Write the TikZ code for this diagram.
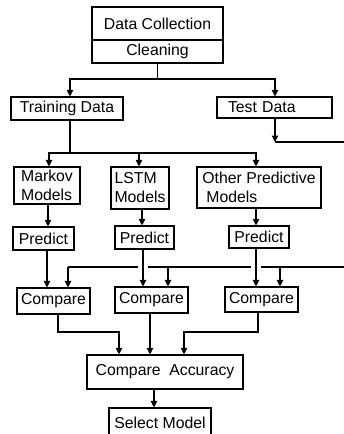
\documentclass[tikz,border=0pt]{standalone}
\usepackage{fontspec}
\setmainfont{Liberation Sans}
\usetikzlibrary{arrows.meta}
\begin{document}
\begin{tikzpicture}[x=1pt,y=-1pt,
  box/.style={draw, line width=1.1pt, inner sep=0pt, align=center,
    font=\fontsize{15.8}{19}\selectfont},
  conn/.style={line width=1.1pt},
  arr/.style={conn, -{Triangle[width=6.5pt,length=6.5pt]}}]
\clip (0,0) rectangle (344,434);
\fill[white] (0,0) rectangle (344,434);

% data preparation
\node[box, minimum width=131, minimum height=33] (dc) at (157.5,23.5) {Data Collection};
\node[box, minimum width=131, minimum height=23] (cl) at (157.5,51.5) {Cleaning};

% data split
\node[box, minimum width=112, minimum height=23] (train) at (67,108.5) {Training Data};
\node[box, text width=93, inner xsep=11pt, minimum height=21, align=left] (test) at (274.5,107.5) {Test Data};

% models
\node[box, minimum width=66, minimum height=37, align=left] (markov) at (47,185.5) {Markov\\Models};
\node[box, minimum width=58, minimum height=42, align=left] (lstm) at (140,188) {LSTM\\Models};
\node[box, minimum width=124, minimum height=41, align=left] (other) at (259,187.5) {Other Predictive\\\hspace*{4pt}Models};

% predictions
\node[box, minimum width=61, minimum height=23] (p1) at (43.5,238.5) {Predict};
\node[box, minimum width=59, minimum height=23] (p2) at (144.5,237.5) {Predict};
\node[box, minimum width=60, minimum height=22] (p3) at (259,237) {Predict};

% comparisons
\node[box, minimum width=73, minimum height=26] (c1) at (53.5,301) {Compare};
\node[box, minimum width=73, minimum height=26] (c2) at (151.5,300) {Compare};
\node[box, minimum width=73, minimum height=25] (c3) at (261.5,299.5) {Compare};

\node[box, minimum width=156, minimum height=34] (ca) at (165,372) {Compare\ \ Accuracy};
\node[box, minimum width=102, minimum height=30] (sel) at (160,423) {Select Model};

% cleaning -> training / test
\coordinate (split1) at (157.5,79);
\draw[conn] (cl.south) -- (split1);
\draw[arr] (split1) -| ([xshift=3]train.north);
\draw[arr] (split1) -| ([xshift=0.5]test.north);

% training -> models
\coordinate (split2) at (70,153);
\draw[conn] ([xshift=3]train.south) -- (split2);
\draw[arr] (split2) -| ([xshift=2]markov.north);
\draw[arr] (split2) -| ([xshift=-1]lstm.north);
\draw[arr] (split2) -| ([xshift=-3]other.north);

% models -> predict
\draw[arr] ([xshift=1]markov.south) -- ([xshift=1]markov.south |- p1.north);
\draw[arr] ([xshift=2]lstm.south) -- ([xshift=2]lstm.south |- p2.north);
\draw[arr] ([xshift=-3]other.south) -- ([xshift=-3]other.south |- p3.north);

% predict -> compare
\draw[arr] ([xshift=3.5]p1.south) -- ([xshift=3.5]p1.south |- c1.north);
\draw[arr] ([xshift=-1.5]p2.south) -- ([xshift=-1.5]p2.south |- c2.north);
\draw[arr] ([xshift=-3]p3.south) -- ([xshift=-3]p3.south |- c3.north);

% test data feed, running round the right side
\coordinate (tbend) at (275,142);
\coordinate (edgeA) at (344,142);
\coordinate (edgeB) at (344,267);
\coordinate (b1) at (68,267);
\coordinate (b2) at (168,267);
\coordinate (b3) at (280,267);
\draw[arr] ([xshift=0.5]test.south) -- (tbend);
\draw[conn] (tbend) -- (edgeA);
\draw[conn] (edgeB) -- (261,267);
\draw[conn] (251,267) -- (148,267);
\draw[conn] (138,267) -- (b1);
\draw[arr] (b1) -- (b1 |- c1.north);
\draw[arr] (b2) -- (b2 |- c2.north);
\draw[arr] (b3) -- (b3 |- c3.north);

% compare -> compare accuracy
\coordinate (mid) at (0,332);
\draw[arr] ([xshift=4.5]c1.south) -- ([xshift=4.5]c1.south |- mid) -| ([xshift=-46]ca.north);
\draw[arr] ([xshift=-1.5]c2.south) -- ([xshift=-1.5]c2.south |- ca.north);
\draw[arr] ([xshift=-3.5]c3.south) -- ([xshift=-3.5]c3.south |- mid) -| ([xshift=19]ca.north);

% final selection
\draw[arr] ([xshift=-11]ca.south) -- ([xshift=-11]ca.south |- sel.north);
\end{tikzpicture}
\end{document}
